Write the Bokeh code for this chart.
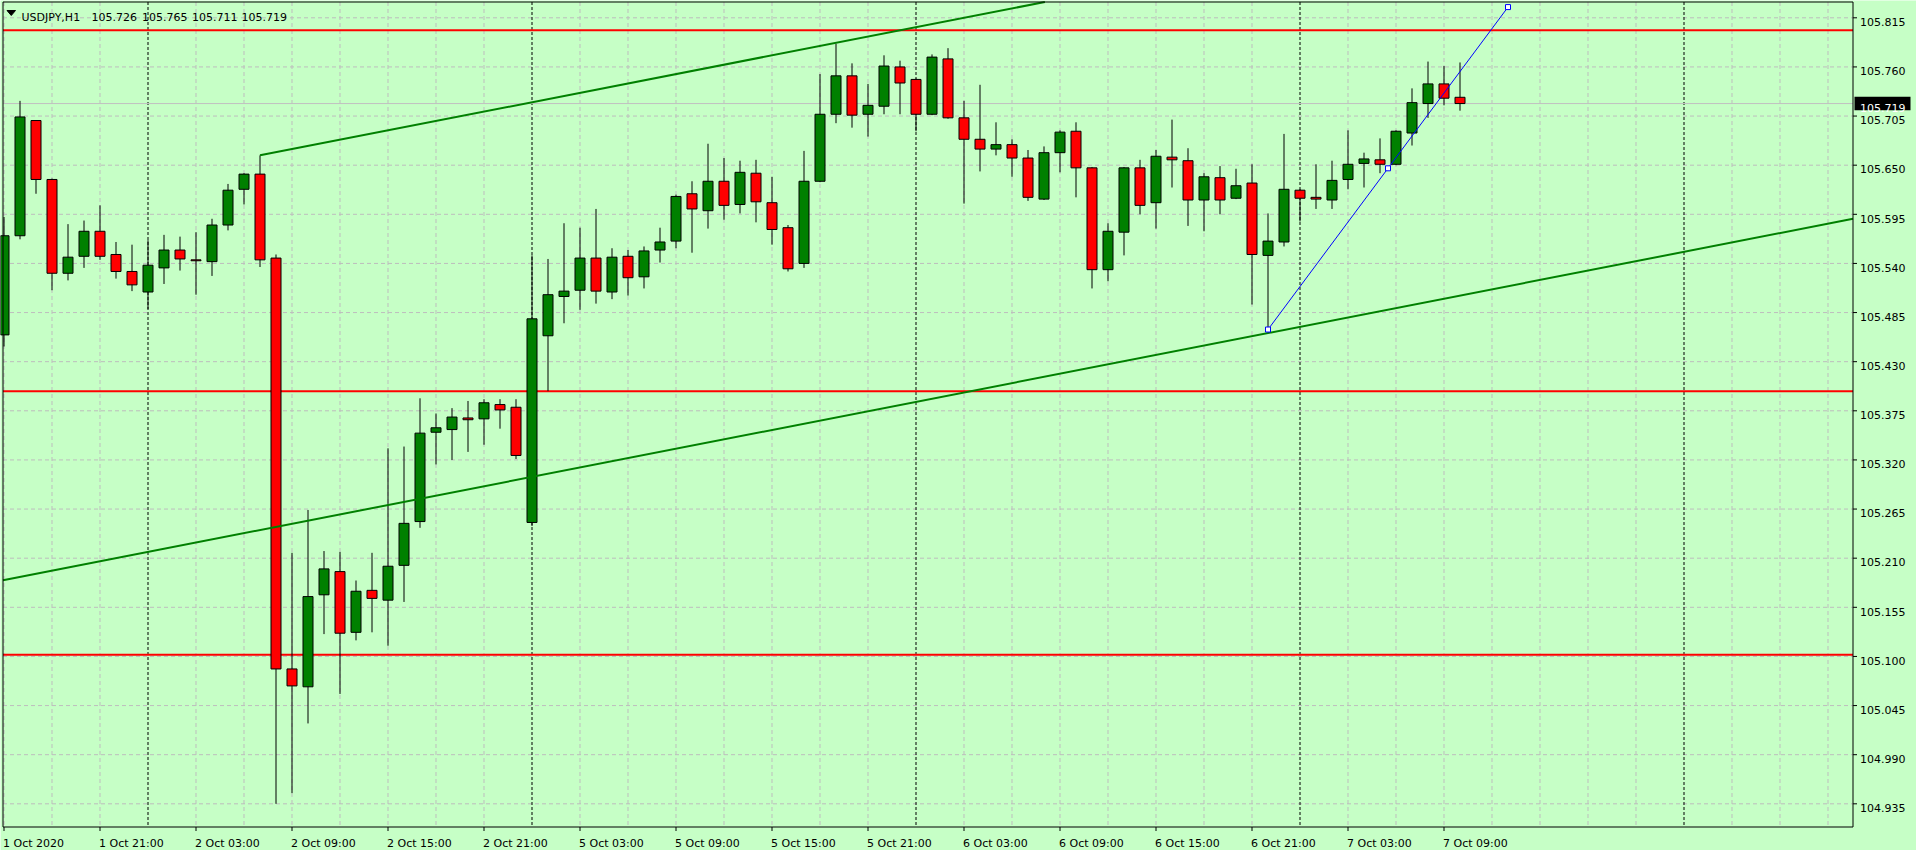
from bokeh.plotting import figure
from bokeh.models import Range1d, ColumnDataSource
from bokeh.core.properties import value
from bokeh.embed import file_html
from bokeh.resources import INLINE

# ---------------- data (USDJPY H1) ----------------
symbol = "USDJPY,H1"
opens = [105.460, 105.571, 105.700, 105.634, 105.529, 105.548, 105.576, 105.550, 105.531, 105.508,
         105.535, 105.555, 105.544, 105.542, 105.583, 105.623, 105.640, 105.546, 105.086, 105.066,
         105.169, 105.195, 105.127, 105.174, 105.163, 105.202, 105.251, 105.351, 105.354, 105.367,
         105.366, 105.382, 105.379, 105.250, 105.459, 105.503, 105.510, 105.546, 105.508, 105.548,
         105.525, 105.555, 105.565, 105.618, 105.599, 105.632, 105.606, 105.641, 105.608, 105.580,
         105.540, 105.632, 105.707, 105.750, 105.707, 105.716, 105.760, 105.746, 105.707, 105.769,
         105.703, 105.679, 105.668, 105.673, 105.658, 105.612, 105.664, 105.688, 105.647, 105.533,
         105.575, 105.647, 105.608, 105.659, 105.655, 105.611, 105.636, 105.613, 105.630, 105.549,
         105.564, 105.622, 105.614, 105.611, 105.634, 105.652, 105.656, 105.651, 105.686, 105.719,
         105.741, 105.726]
highs = [105.592, 105.722, 105.700, 105.635, 105.584, 105.588, 105.605, 105.564, 105.561, 105.566,
         105.572, 105.570, 105.575, 105.590, 105.629, 105.641, 105.661, 105.550, 105.216, 105.264,
         105.218, 105.217, 105.185, 105.216, 105.333, 105.335, 105.389, 105.372, 105.378, 105.386,
         105.388, 105.388, 105.388, 105.549, 105.545, 105.585, 105.580, 105.601, 105.557, 105.555,
         105.559, 105.580, 105.617, 105.632, 105.674, 105.658, 105.655, 105.656, 105.637, 105.583,
         105.666, 105.752, 105.786, 105.764, 105.741, 105.773, 105.767, 105.747, 105.774, 105.781,
         105.722, 105.740, 105.698, 105.679, 105.667, 105.671, 105.689, 105.698, 105.648, 105.585,
         105.648, 105.656, 105.667, 105.701, 105.669, 105.641, 105.649, 105.646, 105.651, 105.596,
         105.685, 105.623, 105.651, 105.655, 105.689, 105.664, 105.680, 105.689, 105.736, 105.766,
         105.761, 105.765]
lows = [105.447, 105.567, 105.618, 105.510, 105.521, 105.535, 105.544, 105.523, 105.509, 105.489,
        105.517, 105.532, 105.505, 105.526, 105.577, 105.606, 105.536, 104.935, 104.947, 105.025,
        105.125, 105.058, 105.118, 105.127, 105.112, 105.161, 105.244, 105.315, 105.320, 105.329,
        105.337, 105.355, 105.321, 105.246, 105.397, 105.473, 105.488, 105.495, 105.500, 105.504,
        105.512, 105.541, 105.557, 105.552, 105.579, 105.589, 105.596, 105.586, 105.561, 105.531,
        105.535, 105.631, 105.697, 105.692, 105.682, 105.707, 105.707, 105.688, 105.706, 105.702,
        105.607, 105.643, 105.661, 105.637, 105.610, 105.611, 105.642, 105.614, 105.512, 105.520,
        105.549, 105.595, 105.579, 105.625, 105.582, 105.576, 105.595, 105.612, 105.494, 105.466,
        105.559, 105.587, 105.601, 105.601, 105.623, 105.625, 105.641, 105.650, 105.672, 105.703,
        105.717, 105.711]
closes = [105.571, 105.704, 105.634, 105.529, 105.547, 105.576, 105.548, 105.531, 105.516, 105.538,
          105.555, 105.545, 105.543, 105.583, 105.622, 105.640, 105.544, 105.086, 105.067, 105.167,
          105.198, 105.126, 105.173, 105.165, 105.201, 105.249, 105.350, 105.356, 105.368, 105.365,
          105.384, 105.376, 105.325, 105.478, 105.505, 105.509, 105.546, 105.509, 105.547, 105.524,
          105.554, 105.564, 105.615, 105.601, 105.632, 105.605, 105.642, 105.609, 105.578, 105.534,
          105.632, 105.707, 105.750, 105.706, 105.717, 105.761, 105.742, 105.707, 105.771, 105.703,
          105.679, 105.668, 105.673, 105.658, 105.614, 105.664, 105.687, 105.647, 105.533, 105.576,
          105.647, 105.605, 105.660, 105.656, 105.611, 105.637, 105.611, 105.627, 105.550, 105.565,
          105.623, 105.613, 105.612, 105.633, 105.651, 105.657, 105.651, 105.688, 105.720, 105.741,
          105.725, 105.719]

# time axis: one label every 6 hourly bars, starting at bar 0 (1 Oct 15:00)
time_labels = ["1 Oct 2020", "1 Oct 21:00", "2 Oct 03:00", "2 Oct 09:00", "2 Oct 15:00",
               "2 Oct 21:00", "5 Oct 03:00", "5 Oct 09:00", "5 Oct 15:00", "5 Oct 21:00",
               "6 Oct 03:00", "6 Oct 09:00", "6 Oct 15:00", "6 Oct 21:00", "7 Oct 03:00",
               "7 Oct 09:00"]
bars_per_label = 6
grid_every = 3
day_start_bars = [9, 33, 57, 81, 105]   # midnight bars (incl. the next day in the empty area)

price_ticks = [105.815, 105.760, 105.705, 105.650, 105.595, 105.540, 105.485, 105.430, 105.375,
               105.320, 105.265, 105.210, 105.155, 105.100, 105.045, 104.990, 104.935]

hlines = [105.801, 105.397, 105.102]          # red horizontal levels
channel_slope = 0.0035                        # price per bar
channel_upper = (16, 105.661)                 # anchor of the upper channel line
channel_lower = (79, 105.462)                 # anchor of the lower channel line
trend_bars = [79, 94]
trend_prices = [105.466, 105.827]

# ---------------- layout / style ----------------
W, H = 1916, 850
BG = "#C6FFC6"
GREEN = "#008000"
RED = "#FF0000"
GRID = "#BDBDBD"
FONT = "DejaVu Sans"
FS = "11px"
BAR_PX = 16.0          # horizontal pixels per bar
BAR0_X = 3.5           # pixel column centre of bar 0
PX_PER_PRICE = 893.2   # vertical pixels per 1.0 of price
TOP_PRICE_Y = 17.3     # pixel row of the first price tick
BOX_L, BOX_T, BOX_R, BOX_B = 2.5, 1.5, 1852.5, 826.5   # chart box (pixels)


def px_x(px):
    return (px - BAR0_X) / BAR_PX


def px_y(py):
    return price_ticks[0] + (TOP_PRICE_Y - py) / PX_PER_PRICE


XL, XR = px_x(BOX_L), px_x(BOX_R)
YT, YB = px_y(BOX_T), px_y(BOX_B)

n = len(opens)
idx = list(range(n))
src = ColumnDataSource(dict(
    idx=idx, open=opens, high=highs, low=lows, close=closes,
    top=[max(o, c) for o, c in zip(opens, closes)],
    bottom=[min(o, c) for o, c in zip(opens, closes)],
    color=[GREEN if c > o else RED for o, c in zip(opens, closes)],
))

p = figure(width=W, height=H, output_backend="svg", toolbar_location=None, tools="",
           x_range=Range1d(px_x(0), px_x(W)), y_range=Range1d(px_y(H), px_y(0)),
           x_axis_location=None, y_axis_location=None,
           min_border=0, min_border_left=0, min_border_right=0, min_border_top=0,
           min_border_bottom=0, background_fill_color=BG, border_fill_color=BG,
           outline_line_color=None)
p.xgrid.visible = False
p.ygrid.visible = False

# ---- grid ----
p.segment(x0=[XL] * len(price_ticks), y0=price_ticks, x1=[XR] * len(price_ticks), y1=price_ticks,
          line_color=GRID, line_width=1, line_dash="4 3")
vgrid = [b for b in range(0, int(XR) + 1, grid_every) if b not in day_start_bars]
p.segment(x0=vgrid, y0=[YT] * len(vgrid), x1=vgrid, y1=[YB] * len(vgrid),
          line_color=GRID, line_width=1, line_dash="4 3")
seps = [b for b in day_start_bars if b < XR]
p.segment(x0=seps, y0=[YT] * len(seps), x1=seps, y1=[YB] * len(seps),
          line_color="black", line_width=1, line_dash="3 2")

# ---- bid line and horizontal levels ----
p.segment(x0=[XL], y0=[closes[-1]], x1=[XR], y1=[closes[-1]], line_color="#C0C0C0", line_width=1)
p.segment(x0=[XL] * len(hlines), y0=hlines, x1=[XR] * len(hlines), y1=hlines,
          line_color=RED, line_width=2)

# ---- candles ----
p.segment(x0="idx", y0="low", x1="idx", y1="high", source=src, line_color="black", line_width=1)
p.vbar(x="idx", width=10 / BAR_PX, top="top", bottom="bottom", source=src,
       fill_color="color", line_color="black", line_width=1)

# ---- channel lines ----
ux, uy = channel_upper
lx, ly = channel_lower
u_end = ux + (YT - uy) / channel_slope          # where the upper line leaves the box top
p.line([ux, u_end], [uy, YT], line_color=GREEN, line_width=2)
p.line([XL, XR], [ly + (XL - lx) * channel_slope, ly + (XR - lx) * channel_slope],
       line_color=GREEN, line_width=2)

# ---- blue trend line with its anchor squares ----
p.line(trend_bars, trend_prices, line_color="#0000FF", line_width=1)
mid_bar = (trend_bars[0] + trend_bars[1]) / 2
mid_price = (trend_prices[0] + trend_prices[1]) / 2
p.scatter([trend_bars[0], mid_bar, trend_bars[1]], [trend_prices[0], mid_price, trend_prices[1]],
          marker="square", size=5, line_color="#0000FF", fill_color="white", line_width=1)

# ---- chart box ----
p.line([XL, XR, XR, XL, XL], [YT, YT, YB, YB, YT], line_color="black", line_width=1)

# ---- price scale (right) ----
tick_r = px_x(BOX_R + 4)
p.segment(x0=[XR] * len(price_ticks), y0=price_ticks, x1=[tick_r] * len(price_ticks),
          y1=price_ticks, line_color="black", line_width=1)
p.text(x=[px_x(1859.5)] * len(price_ticks), y=price_ticks, text=[f"{t:.3f}" for t in price_ticks],
       text_font=value(FONT), text_font_size=value(FS), text_color="black",
       text_baseline="alphabetic", text_align="left", y_offset=4.2)

# bid price box
p.rect(x=[px_x(1882)], y=[closes[-1]], width=56, height=13.5, width_units="screen",
       height_units="screen", fill_color="black", line_color=None)
p.text(x=[px_x(1859.5)], y=[closes[-1]], text=[f"{closes[-1]:.3f}"],
       text_font=value(FONT), text_font_size=value(FS), text_color="white",
       text_baseline="alphabetic", text_align="left", y_offset=4.2)

# ---- time scale (bottom) ----
xticks = [i * bars_per_label for i in range(len(time_labels))]
tick_b = px_y(BOX_B + 4)
p.segment(x0=xticks, y0=[YB] * len(xticks), x1=xticks, y1=[tick_b] * len(xticks),
          line_color="black", line_width=1)
p.text(x=xticks, y=[px_y(843)] * len(xticks), text=time_labels,
       text_font=value(FONT), text_font_size=value(FS), text_color="black",
       text_baseline="alphabetic", text_align="left", x_offset=-1)

# ---- header ----
p.patch([px_x(6.5), px_x(15), px_x(10.75)], [px_y(10), px_y(10), px_y(15)],
        fill_color="black", line_color="black", line_width=1)
header_parts = [symbol, f"{opens[-1]:.3f}", f"{highs[-1]:.3f}", f"{lows[-1]:.3f}", f"{closes[-1]:.3f}"]
header_px = [21, 91, 141.5, 191.5, 241]
p.text(x=[px_x(v) for v in header_px], y=[px_y(16.7)] * len(header_parts), text=header_parts,
       text_font=value(FONT), text_font_size=value(FS), text_color="black",
       text_baseline="alphabetic", text_align="left")

open("out.html", "w").write(file_html(p, INLINE))
